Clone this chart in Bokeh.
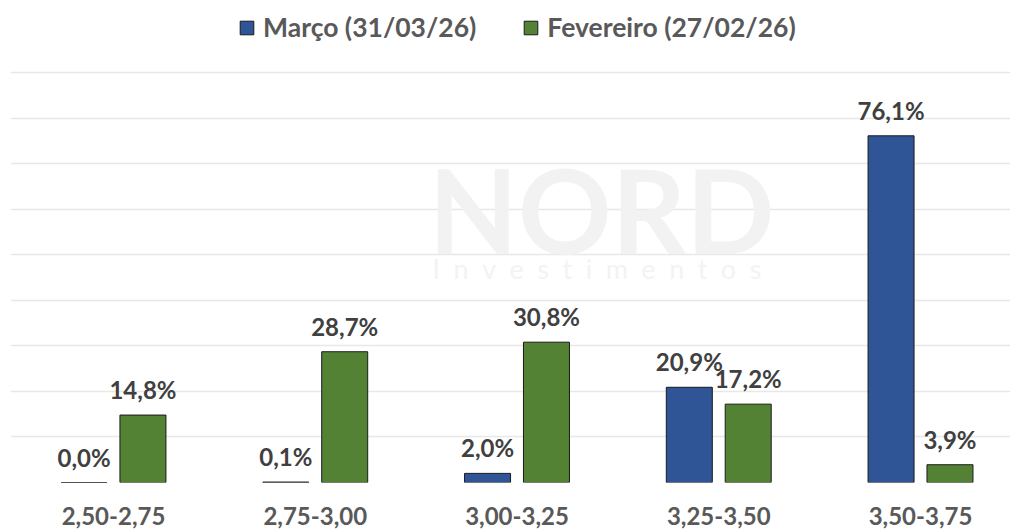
from bokeh.plotting import figure
from bokeh.models import ColumnDataSource, LabelSet, Legend, LegendItem, FixedTicker, Label, Range1d
from bokeh.transform import dodge
from bokeh.core.properties import value
from bokeh.embed import file_html
from bokeh.resources import INLINE

categories = ["2,50-2,75", "2,75-3,00", "3,00-3,25", "3,25-3,50", "3,50-3,75"]
marco = [0.0, 0.1, 2.0, 20.9, 76.1]
fevereiro = [14.8, 28.7, 30.8, 17.2, 3.9]
series_names = ["Março (31/03/26)", "Fevereiro (27/02/26)"]

BLUE = "#2F5597"
GREEN = "#548235"
FONT = "Lato"

def fmt(v):
    return f"{v:.1f}".replace(".", ",") + "%"

idx = list(range(len(categories)))
src = ColumnDataSource(dict(
    idx=idx,
    marco=marco,
    fev=fevereiro,
    marco_lbl=[fmt(v) for v in marco],
    fev_lbl=[fmt(v) for v in fevereiro],
))

p = figure(width=1010, height=529, output_backend="svg", toolbar_location=None,
           x_range=Range1d(-0.5105, 4.446), y_range=Range1d(0, 105.8),
           min_border_left=10, min_border_right=0, min_border_top=0, min_border_bottom=47)
p.outline_line_color = None
p.background_fill_color = "white"

off = 0.146
w = 0.228
r1 = p.vbar(x=dodge("idx", -off), top="marco", width=w, source=src,
            fill_color=BLUE, line_color="#1a1a1a", line_width=1)
r2 = p.vbar(x=dodge("idx", off), top="fev", width=w, source=src,
            fill_color=GREEN, line_color="#1a1a1a", line_width=1)

for col, lbl, o in (("marco", "marco_lbl", -off), ("fev", "fev_lbl", off)):
    p.add_layout(LabelSet(x=dodge("idx", o), y=col, text=lbl, source=src,
                          text_align="center", text_baseline="alphabetic", y_offset=16,
                          text_font=value(FONT), text_font_style="bold",
                          text_font_size="24px", text_color="#404040"))

# axes
p.yaxis.visible = False
p.xaxis.ticker = FixedTicker(ticks=idx)
p.xaxis.major_label_overrides = {i: c for i, c in zip(idx, categories)}
p.xaxis.axis_line_color = None
p.xaxis.major_tick_line_color = None
p.xaxis.minor_tick_line_color = None
p.xaxis.major_label_standoff = 18
p.xaxis.major_label_text_font = FONT
p.xaxis.major_label_text_font_style = "bold"
p.xaxis.major_label_text_font_size = "24px"
p.xaxis.major_label_text_color = "#595959"

p.xgrid.visible = False
p.ygrid.ticker = FixedTicker(ticks=[0, 10, 20, 30, 40, 50, 60, 70, 80, 90])
p.ygrid.grid_line_color = "#e8e8e8"
p.ygrid.grid_line_width = 1.5

# watermark
p.add_layout(Label(x=418, y=204, x_units="screen", y_units="screen", text="NORD",
                   text_font=FONT, text_font_style="bold", text_font_size="116px",
                   text_baseline="bottom",
                   text_color="#f2f2f2", level="underlay"))
sp = "\u2002"
p.add_layout(Label(x=422, y=198, x_units="screen", y_units="screen",
                   text=sp.join("Investimentos"), text_baseline="bottom",
                   text_font=FONT, text_font_size="27px",
                   text_color="#f3f3f3", level="underlay"))

legend = Legend(items=[LegendItem(label=series_names[0], renderers=[r1]),
                       LegendItem(label=series_names[1], renderers=[r2])],
                orientation="horizontal", location=(228, 439),
                label_text_font=FONT, label_text_font_style="bold",
                label_text_font_size="26.5px", label_text_color="#595959",
                glyph_width=17, glyph_height=17, label_standoff=8, spacing=46,
                padding=0, margin=0, border_line_color=None, background_fill_alpha=0)
p.add_layout(legend, "center")

open("out.html", "w").write(file_html(p, INLINE))
